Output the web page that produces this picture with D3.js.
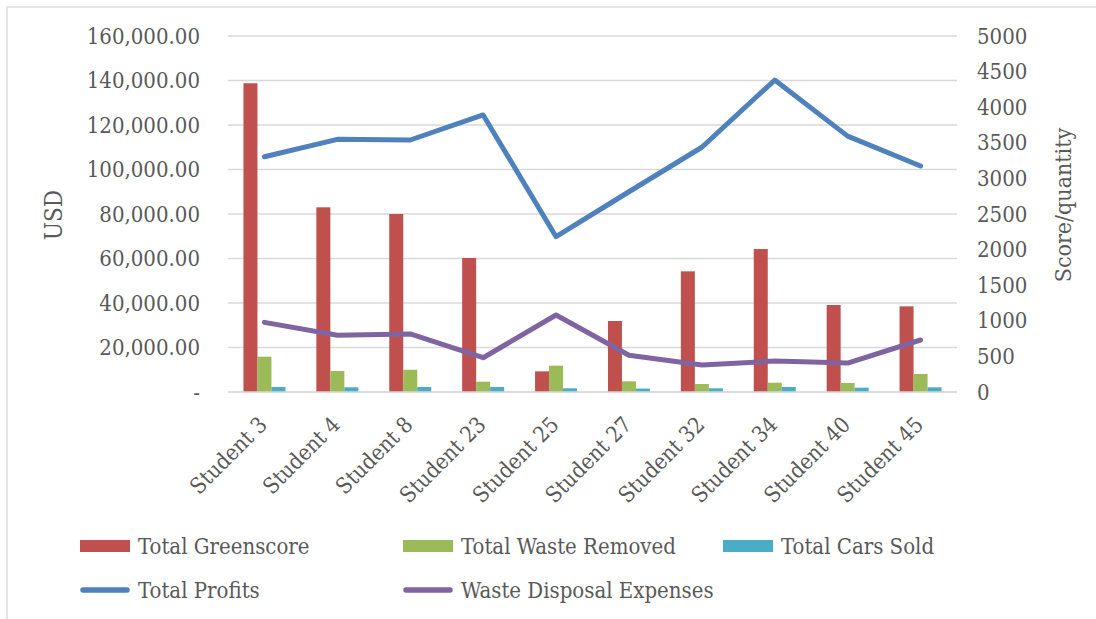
<!DOCTYPE html>
<html>
<head>
<meta charset="utf-8">
<script src="https://cdn.jsdelivr.net/npm/d3@7"></script>
<style>
  html, body { margin: 0; padding: 0; background: #fff; }
  svg text { font-family: 'DejaVu Serif Condensed', 'DejaVu Serif', serif; font-stretch: condensed; fill: #595959; }
</style>
</head>
<body>
<svg id="chart" width="1096" height="619"></svg>
<script>
const categories = ["Student 3","Student 4","Student 8","Student 23","Student 25","Student 27","Student 32","Student 34","Student 40","Student 45"];
const greenscore   = [4336, 2594, 2500, 1882, 290, 997, 1695, 2008, 1222, 1203];
const wasteRemoved = [496, 295, 313, 145, 370, 150, 112, 131, 126, 253];
const carsSold     = [70, 66, 70, 70, 52, 48, 52, 70, 61, 66];
const totalProfits = [105750, 113570, 113260, 124500, 69800, 90000, 110000, 140200, 115000, 101600];
const wasteExpenses = [31300, 25500, 26070, 15400, 34600, 16500, 12130, 13900, 13000, 23370];
const leftTicks = [0, 20000, 40000, 60000, 80000, 100000, 120000, 140000, 160000];
const rightTicks = [0, 500, 1000, 1500, 2000, 2500, 3000, 3500, 4000, 4500, 5000];

const barSeries = [
  {name: "Total Greenscore", values: greenscore, color: "#C0504D"},
  {name: "Total Waste Removed", values: wasteRemoved, color: "#9BBB59"},
  {name: "Total Cars Sold", values: carsSold, color: "#4BACC6"}
];
const lineSeries = [
  {name: "Total Profits", values: totalProfits, color: "#4F81BD"},
  {name: "Waste Disposal Expenses", values: wasteExpenses, color: "#8064A2"}
];

const svg = d3.select("#chart");
const plotLeft = 228, plotRight = 957, plotTop = 36, plotBottom = 392;

// frame
svg.append("rect").attr("x", 7).attr("y", 7).attr("width", 1200).attr("height", 1000)
  .attr("fill", "none").attr("stroke", "#D9D9D9").attr("stroke-width", 1.3);

const x = d3.scaleBand().domain(categories).range([plotLeft, plotRight]).padding(0);
const bw = x.bandwidth();
const xs = d3.scaleBand().domain(barSeries.map(s => s.name)).range([bw * 0.212, bw * 0.788]).padding(0);
const yL = d3.scaleLinear().domain([0, 160000]).range([plotBottom, plotTop]);
const yR = d3.scaleLinear().domain([0, 5000]).range([plotBottom, plotTop]);

// gridlines
svg.append("g").selectAll("line").data(leftTicks).join("line")
  .attr("x1", plotLeft).attr("x2", plotRight)
  .attr("y1", d => yL(d)).attr("y2", d => yL(d))
  .attr("stroke", "#D9D9D9").attr("stroke-width", 1.4);

// left axis
const axL = svg.append("g").attr("transform", `translate(${plotLeft},0)`)
  .call(d3.axisLeft(yL).tickValues(leftTicks).tickSize(0).tickPadding(28)
    .tickFormat(d => d === 0 ? "-" : d3.format(",.2f")(d)));
axL.select(".domain").remove();
axL.selectAll("text").style("font-size", "22px").attr("fill", "#595959");

// right axis
const axR = svg.append("g").attr("transform", `translate(${plotRight},0)`)
  .call(d3.axisRight(yR).tickValues(rightTicks).tickSize(0).tickPadding(20)
    .tickFormat(d3.format("d")));
axR.select(".domain").remove();
axR.selectAll("text").style("font-size", "22px").attr("fill", "#595959");

// bars
const groups = svg.append("g").selectAll("g").data(barSeries).join("g").attr("fill", d => d.color);
groups.selectAll("rect").data(s => s.values.map((v, i) => ({s: s.name, c: categories[i], v})))
  .join("rect")
  .attr("x", d => x(d.c) + xs(d.s))
  .attr("width", xs.bandwidth())
  .attr("y", d => yR(d.v))
  .attr("height", d => yR(0) - yR(d.v));

// baseline
svg.append("line").attr("x1", plotLeft).attr("x2", plotRight).attr("y1", plotBottom).attr("y2", plotBottom)
  .attr("stroke", "#D9D9D9").attr("stroke-width", 1.6);

// lines
const lineGen = d3.line().x((d, i) => x(categories[i]) + bw / 2).y(d => yL(d));
svg.append("g").selectAll("path").data(lineSeries).join("path")
  .attr("d", d => lineGen(d.values))
  .attr("fill", "none").attr("stroke", d => d.color).attr("stroke-width", 5)
  .attr("stroke-linejoin", "round").attr("stroke-linecap", "round");

// x labels
svg.append("g").selectAll("text").data(categories).join("text")
  .attr("transform", d => `translate(${x(d) + bw / 2 + 4},426) rotate(-45)`)
  .attr("text-anchor", "end")
  .style("font-size", "22px")
  .text(d => d);

// axis titles
svg.append("text").attr("transform", "translate(62,215) rotate(-90)")
  .attr("text-anchor", "middle").style("font-size", "24px").text("USD");
svg.append("text").attr("transform", "translate(1071,205) rotate(-90)")
  .attr("text-anchor", "middle").style("font-size", "23px").text("Score/quantity");

// legend
const legendItems = [
  {name: barSeries[0].name, color: barSeries[0].color, type: "bar", x: 80, y: 546},
  {name: barSeries[1].name, color: barSeries[1].color, type: "bar", x: 403, y: 546},
  {name: barSeries[2].name, color: barSeries[2].color, type: "bar", x: 723, y: 546},
  {name: lineSeries[0].name, color: lineSeries[0].color, type: "line", x: 80, y: 590},
  {name: lineSeries[1].name, color: lineSeries[1].color, type: "line", x: 403, y: 590}
];
const lg = svg.append("g").selectAll("g").data(legendItems).join("g")
  .attr("transform", d => `translate(${d.x},${d.y})`);
lg.filter(d => d.type === "bar").append("rect")
  .attr("x", 0).attr("y", -6).attr("width", 50).attr("height", 12).attr("fill", d => d.color);
lg.filter(d => d.type === "line").append("line")
  .attr("x1", 3).attr("x2", 47).attr("y1", 0).attr("y2", 0)
  .attr("stroke", d => d.color).attr("stroke-width", 5.5).attr("stroke-linecap", "round");
lg.append("text").attr("x", 58).attr("y", 0).attr("dy", "0.35em")
  .style("font-size", "22px").text(d => d.name);
</script>
</body>
</html>
